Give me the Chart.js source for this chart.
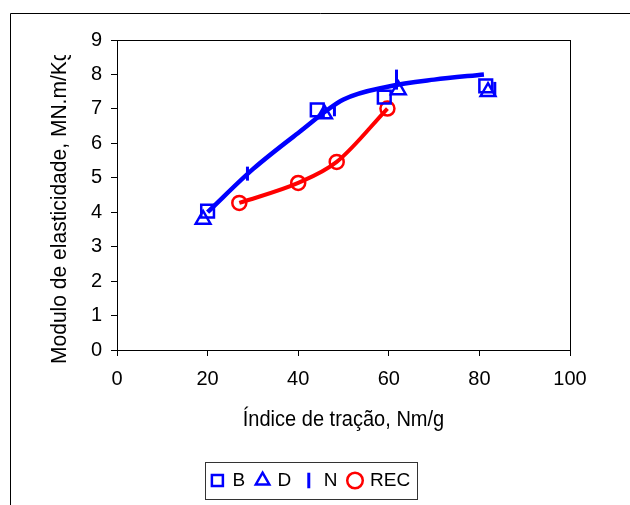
<!DOCTYPE html>
<html lang="pt">
<head>
    <meta charset="utf-8">
    <title>Modulo de elasticidade x Índice de tração</title>
    <script src="https://cdn.jsdelivr.net/npm/chart.js"></script>
    <style>
        body { margin: 0; background: #fff; }
        #wrap { width: 630px; height: 505px; }
    </style>
</head>
<body>
<div id="wrap"><canvas id="chart" width="630" height="505"></canvas></div>
<script>
    // valores
    const bX = [20.0, 44.2, 59.0, 81.4];
    const bY = [4.03, 6.97, 7.34, 7.67];
    const dX = [19.0, 45.8, 62.1, 81.9];
    const dY = [3.79, 6.85, 7.55, 7.50];
    const nX = [28.8, 48.0, 61.7, 83.4];
    const nY = [5.12, 6.96, 7.85, 7.58];
    const recX = [27.0, 40.0, 48.5, 59.7];
    const recY = [4.27, 4.85, 5.46, 7.01];
    // curva de tendencia (azul)
    const trendX = [20, 30, 40, 50, 60, 70, 81];
    const trendY = [4.0, 5.25, 6.3, 7.27, 7.65, 7.85, 8.0];

    const xTicks = [0, 20, 40, 60, 80, 100];
    const yTicks = [0, 1, 2, 3, 4, 5, 6, 7, 8, 9];

    const xTitle = 'Índice de tração, Nm/g';
    const yTitle = 'Modulo de elasticidade, MN.m/Kg';

    const regular = "'Liberation Sans', Arial, sans-serif";

    function pts(xs, ys) {
        return xs.map((x, i) => ({x: x, y: ys[i]}));
    }

    const BLUE = '#0000ff';
    const RED = '#ff0000';

    // texto um pouco estreito, como no original
    function condensedText(ctx, text, x, y, rot, sx, align) {
        ctx.save();
        ctx.translate(x, y);
        ctx.rotate(rot);
        ctx.scale(sx, 1);
        ctx.font = '22.5px ' + regular;
        ctx.fillStyle = '#000';
        ctx.textAlign = align;
        ctx.textBaseline = 'alphabetic';
        ctx.fillText(text, 0, 0);
        ctx.restore();
    }

    const framePlugin = {
        id: 'frame',
        beforeDraw(chart) {
            const ctx = chart.ctx;
            ctx.save();
            ctx.strokeStyle = '#000';
            ctx.lineWidth = 1;
            ctx.beginPath();
            ctx.moveTo(10.5, chart.height);
            ctx.lineTo(10.5, 13.5);
            ctx.lineTo(chart.width, 13.5);
            ctx.stroke();
            ctx.restore();
        },
        beforeDatasetsDraw(chart) {
            const a = chart.chartArea;
            const ctx = chart.ctx;
            ctx.save();
            ctx.strokeStyle = '#000';
            ctx.lineWidth = 1;
            ctx.strokeRect(Math.round(a.left) + 0.5, Math.round(a.top) + 0.5,
                Math.round(a.right - a.left), Math.round(a.bottom - a.top));
            ctx.restore();
        },
        afterDraw(chart) {
            const ctx = chart.ctx;
            const a = chart.chartArea;

            // titulo do eixo x
            condensedText(ctx, xTitle, (a.left + a.right) / 2, 426, 0, 0.89, 'center');

            // titulo do eixo y, cortado em cima como no original
            ctx.save();
            ctx.beginPath();
            ctx.rect(0, 55, chart.width, chart.height);
            ctx.clip();
            condensedText(ctx, yTitle, 66, 364, -Math.PI / 2, 0.935, 'left');
            ctx.restore();

            // caixa da legenda
            const boxes = chart.legend.legendHitBoxes;
            if (boxes && boxes.length) {
                let l = Infinity, r = -Infinity, t = Infinity, b = -Infinity;
                boxes.forEach(h => {
                    l = Math.min(l, h.left);
                    r = Math.max(r, h.left + h.width);
                    t = Math.min(t, h.top);
                    b = Math.max(b, h.top + h.height);
                });
                ctx.save();
                ctx.strokeStyle = '#333';
                ctx.lineWidth = 1;
                ctx.strokeRect(Math.round(l - 7) + 0.5, Math.round(t - 9) + 0.5,
                    Math.round(r - l + 14), Math.round(b - t + 18));
                ctx.restore();
            }
        }
    };

    Chart.defaults.color = '#000';
    Chart.defaults.font.family = regular;

    new Chart(document.getElementById('chart'), {
        type: 'scatter',
        data: {
            datasets: [
                {
                    label: 'B',
                    data: pts(bX, bY),
                    pointStyle: 'rect',
                    pointRadius: 9,
                    pointBorderWidth: 2.5,
                    borderColor: BLUE,
                    backgroundColor: 'transparent',
                    showLine: false
                },
                {
                    label: 'D',
                    data: pts(dX, dY),
                    pointStyle: 'triangle',
                    pointRadius: 8.5,
                    pointBorderWidth: 2.5,
                    borderColor: BLUE,
                    backgroundColor: 'transparent',
                    showLine: false
                },
                {
                    label: 'N',
                    data: pts(nX, nY),
                    pointStyle: 'line',
                    pointRotation: 90,
                    pointRadius: [7, 6, 10, 7],
                    pointBorderWidth: 3,
                    borderColor: BLUE,
                    backgroundColor: 'transparent',
                    showLine: false
                },
                {
                    label: 'REC',
                    data: pts(recX, recY),
                    pointStyle: 'circle',
                    pointRadius: 7,
                    pointBorderWidth: 2.5,
                    borderColor: RED,
                    backgroundColor: 'transparent',
                    borderWidth: 4,
                    showLine: true,
                    cubicInterpolationMode: 'monotone'
                },
                {
                    label: 'tendencia',
                    data: pts(trendX, trendY),
                    pointRadius: 0,
                    borderColor: BLUE,
                    backgroundColor: 'transparent',
                    borderWidth: 4.5,
                    showLine: true,
                    cubicInterpolationMode: 'monotone'
                }
            ]
        },
        options: {
            responsive: false,
            animation: false,
            layout: {padding: {left: 52, right: 60, top: 40, bottom: 5}},
            plugins: {
                tooltip: {enabled: false},
                legend: {
                    position: 'bottom',
                    labels: {
                        usePointStyle: true,
                        boxHeight: 11,
                        boxWidth: 11,
                        padding: 12,
                        font: {size: 19, family: regular},
                        color: '#000',
                        filter: item => item.text !== 'tendencia'
                    }
                }
            },
            scales: {
                x: {
                    type: 'linear',
                    min: 0,
                    max: 100,
                    afterBuildTicks: s => { s.ticks = xTicks.map(v => ({value: v})); },
                    afterFit: s => { s.height = 109; },
                    ticks: {font: {size: 20}, padding: 11, color: '#000', maxRotation: 0},
                    grid: {drawOnChartArea: false, tickLength: 6, color: '#000'},
                    border: {color: '#000'}
                },
                y: {
                    type: 'linear',
                    min: 0,
                    max: 9,
                    afterBuildTicks: s => { s.ticks = yTicks.map(v => ({value: v})); },
                    afterFit: s => { s.width = 65; },
                    ticks: {font: {size: 20}, padding: 9, color: '#000'},
                    grid: {drawOnChartArea: false, tickLength: 6, color: '#000'},
                    border: {color: '#000'}
                }
            }
        },
        plugins: [framePlugin]
    });
</script>
</body>
</html>
